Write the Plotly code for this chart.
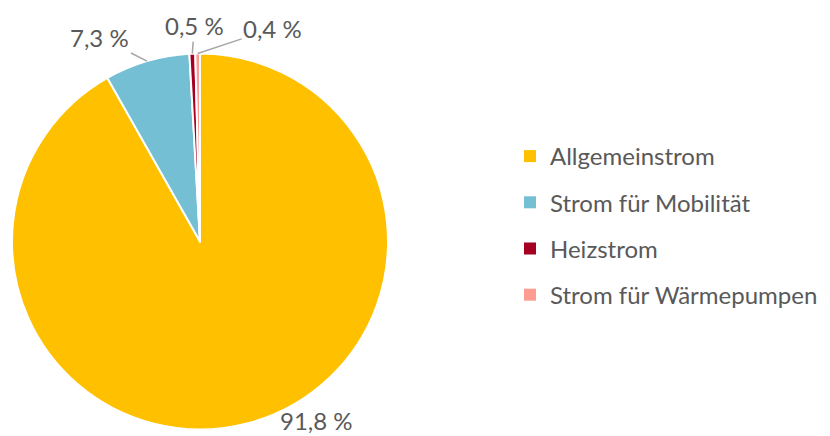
import math
import plotly.graph_objects as go

# ---- data ----
labels = ["Allgemeinstrom", "Strom für Mobilität", "Heizstrom", "Strom für Wärmepumpen"]
values = [91.8, 7.3, 0.5, 0.4]

# ---- styles ----
colors = ["#FFC000", "#75BFD4", "#A50021", "#FF9C91"]
label_offsets = [(69, -3, False), (-47, -24, True), (2, -28, True), (75, -25, True)]  # pixel offsets of labels from rim
OFF = 8                      # page body margin
W, H = 830 - OFF, 436 - OFF  # figure size that fits the window
CX, CY, R = 200 - OFF, 241.5 - OFF, 188
FONT = "Lato"
FS = 24
TXT = "#595959"

fig = go.Figure()
fig.add_trace(go.Pie(
    labels=labels, values=values, sort=False, direction="clockwise", rotation=0,
    marker=dict(colors=colors, line=dict(color="white", width=2)),
    textinfo="none", showlegend=False, hoverinfo="label+percent",
    domain=dict(x=[(CX - R) / W, (CX + R) / W], y=[1 - (CY + R) / H, 1 - (CY - R) / H]),
))

# legend entries
for lab, col in zip(labels, colors):
    fig.add_trace(go.Scatter(x=[None], y=[None], mode="markers", name=lab, legendgroup=lab,
                             marker=dict(symbol="square", size=12, color=col)))

# data labels computed from slice mid-angles
total = sum(values)
cum = 0.0
annotations = []
for v, (ax, ay, arrow) in zip(values, label_offsets):
    mid = (cum + v / 2) / total * 2 * math.pi
    cum += v
    px = CX + R * math.sin(mid)
    py = CY - R * math.cos(mid)
    txt = f"{v:.1f}".replace(".", ",") + " %"
    a = dict(x=px / W, y=1 - py / H, xref="paper", yref="paper", text=txt,
             xanchor="center", yanchor="middle",
             font=dict(family=FONT, size=FS, color=TXT))
    if arrow:
        a.update(showarrow=True, ax=ax, ay=ay, arrowhead=0, arrowwidth=1.5, arrowcolor="#A6A6A6")
    else:
        a.update(showarrow=False, xshift=ax, yshift=-ay)
    annotations.append(a)

fig.update_layout(
    width=W, height=H, margin=dict(l=0, r=0, t=0, b=0),
    paper_bgcolor="white", plot_bgcolor="white",
    xaxis=dict(visible=False), yaxis=dict(visible=False),
    annotations=annotations,
    legend=dict(x=(510 - OFF) / W, y=1 - (134 - OFF) / H, xanchor="left", yanchor="top",
                font=dict(family=FONT, size=FS, color=TXT), tracegroupgap=12,
                bgcolor="rgba(0,0,0,0)"),
)
fig.write_html("out.html")
